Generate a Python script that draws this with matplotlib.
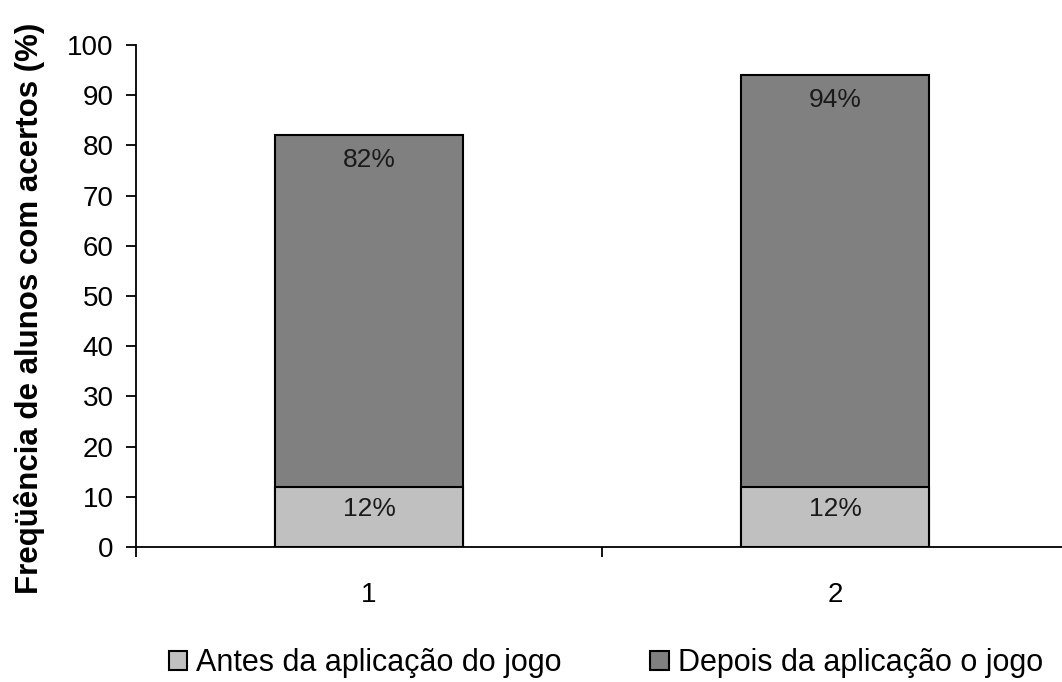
import matplotlib.pyplot as plt
from matplotlib.patches import Patch

# Data
categories = ['1', '2']
antes = [12, 12]
depois = [82, 94]
antes_labels = ['12%', '12%']
depois_labels = ['82%', '94%']

plt.rcParams['font.family'] = ['Liberation Sans', 'DejaVu Sans']

fig = plt.figure(figsize=(10.62, 6.82), dpi=100)
ax = fig.add_axes([136 / 1062, 1 - 547 / 682, 932 / 1062, 502 / 682])

x = list(range(len(categories)))
width = 0.405

# Dark bar drawn behind, light bar in front (overlapping, not stacked)
ax.bar(x, depois, width, color='#808080', edgecolor='black', linewidth=1.5, zorder=2)
ax.bar(x, antes, width, color='#C0C0C0', edgecolor='black', linewidth=1.5, zorder=3)

for xi, v, lab in zip(x, depois, depois_labels):
    ax.text(xi, v - 5, lab, ha='center', va='center', fontsize=19, color='#1a1a1a', zorder=4)
for xi, v, lab in zip(x, antes, antes_labels):
    ax.text(xi, v / 2 + 1.6, lab, ha='center', va='center', fontsize=19, color='#1a1a1a', zorder=4)

ax.set_xlim(-0.5, 1.5)
ax.set_ylim(0, 100)
ax.set_yticks(range(0, 101, 10))
ax.set_xticks(x)
ax.set_xticklabels(categories)
ax.set_xticks([-0.5, 0.5, 1.5], minor=True)
ax.tick_params(axis='x', which='major', length=0, pad=25, labelsize=20)
ax.tick_params(axis='x', which='minor', length=7, width=1.3, direction='out')
ax.tick_params(axis='y', length=7, width=1.3, labelsize=20, pad=9)

ax.spines['top'].set_visible(False)
ax.spines['right'].set_visible(False)
ax.spines['left'].set_linewidth(1.3)
ax.spines['bottom'].set_linewidth(1.3)

ax.set_ylabel('Freqüência de alunos com acertos (%)', fontsize=22.5, fontweight='bold')
ax.yaxis.set_label_coords(-0.098, 0.475)

handles = [Patch(facecolor='#C0C0C0', edgecolor='black', linewidth=1.5),
           Patch(facecolor='#808080', edgecolor='black', linewidth=1.5)]
fig.legend(handles, ['Antes da aplicação do jogo', 'Depois da aplicação o jogo'],
           loc='center', bbox_to_anchor=(606 / 1062, 1 - 663 / 682), ncol=2, frameon=False,
           prop={'size': 22},
           handlelength=0.6, handleheight=0.6, handletextpad=0.3, columnspacing=2.9)

plt.savefig('out.png', dpi=100)
